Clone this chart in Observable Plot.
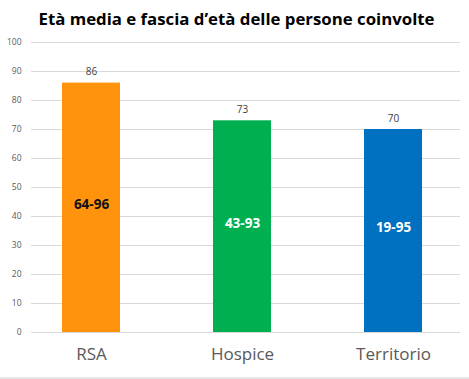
<!DOCTYPE html>
<html>
<head>
<meta charset="utf-8">
<script src="https://cdn.jsdelivr.net/npm/d3@7"></script>
<script src="https://cdn.jsdelivr.net/npm/@observablehq/plot@0.6"></script>
<style>
  body { margin: 0; background: #fff; }
  #wrap { width: 469px; height: 379px; box-sizing: border-box; border-bottom: 2px solid #e6e6e6; overflow: hidden; }
  #title { height: 34px; line-height: 37px; text-align: center; font-family: "Open Sans", sans-serif; font-weight: 700; font-size: 16.8px; color: #000; padding-left: 4px; }
</style>
</head>
<body>
<div id="wrap">
  <div id="title">Età media e fascia d’età delle persone coinvolte</div>
  <div id="chart"></div>
</div>
<script>
const categories = ["RSA", "Hospice", "Territorio"];
const meanAge = [86, 73, 70];
const ageRange = ["64-96", "43-93", "19-95"];
const barColors = ["#FF930B", "#00B050", "#0070C0"];
const rangeTextColors = ["#111111", "#ffffff", "#ffffff"];
const yTicks = [0, 10, 20, 30, 40, 50, 60, 70, 80, 90, 100];

const data = categories.map((c, i) => ({
  cat: c, value: meanAge[i], range: ageRange[i], color: barColors[i], txt: rangeTextColors[i]
}));

const chart = Plot.plot({
  width: 469,
  height: 343,
  marginTop: 8,
  marginBottom: 45,
  marginLeft: 31,
  marginRight: 9,
  style: { fontFamily: "'Open Sans', sans-serif", background: "#fff" },
  x: { domain: categories, paddingInner: 0.616, paddingOuter: 0.228, align: 0.45, label: null },
  y: { domain: [0, 100], label: null },
  marks: [
    Plot.gridY(yTicks, { stroke: "#d9d9d9", strokeOpacity: 1 }),
    Plot.axisY(yTicks, { tickSize: 0, tickPadding: 10, fontSize: 8.5, fill: "#595959", label: null }),
    Plot.axisX({ tickSize: 0, tickPadding: 15, fontSize: 17, fill: "#595959", label: null }),
    Plot.barY(data, { x: "cat", y: "value", fill: "color" }),
    Plot.text(data, { x: "cat", y: "value", text: d => String(d.value), dy: -11, fontSize: 10, fill: "#404040" }),
    Plot.text(data, { x: "cat", y: d => d.value / 2, text: "range", fill: "txt", fontSize: 13.5, fontWeight: "bold", dy: -3 })
  ]
});
document.getElementById("chart").appendChild(chart);
</script>
</body>
</html>
